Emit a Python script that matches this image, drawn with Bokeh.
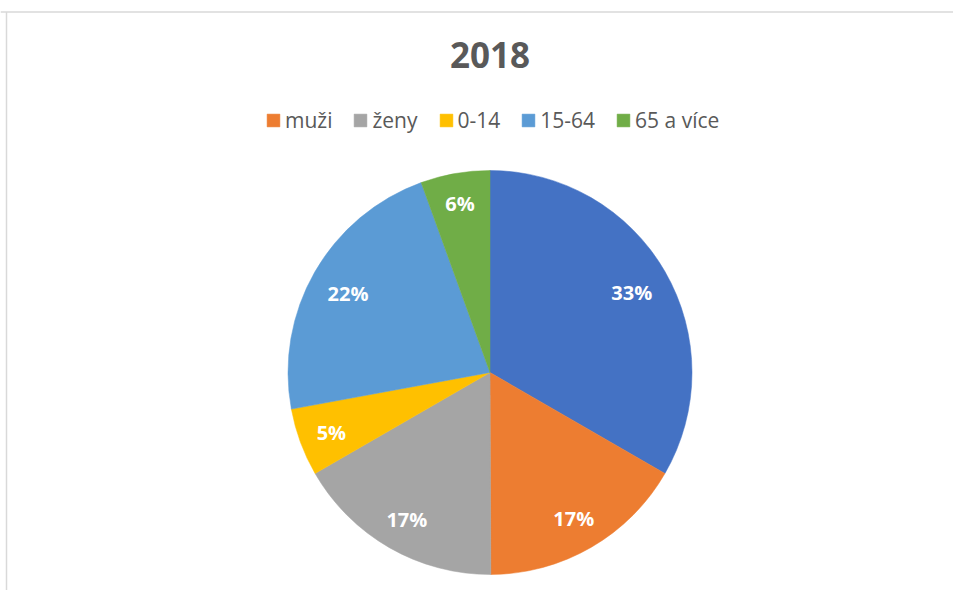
import math
from bokeh.plotting import figure
from bokeh.models import Range1d, Legend, LegendItem, ColumnDataSource
from bokeh.core.properties import value
from bokeh.embed import file_html
from bokeh.resources import INLINE

# ---- data ----
categories = ["celkem", "muži", "ženy", "0-14", "15-64", "65 a více"]
values = [10000, 4980, 5020, 1630, 6710, 1660]
colors = ["#4472C4", "#ED7D31", "#A5A5A5", "#FFC000", "#5B9BD5", "#70AD47"]
legend_items = ["muži", "ženy", "0-14", "15-64", "65 a více"]
title_text = "2018"

# ---- layout constants ----
W, H = 953, 590
CX, CY = 489.5, 372      # pie centre in canvas px
R = 202
LABEL_FS = 20
FONT = "Open Sans"
TEXT_COLOR = "#595959"

total = sum(values)
starts, ends, pcts, lx, ly = [], [], [], [], []
cum = 0
for v in values:
    a0 = math.pi / 2 - 2 * math.pi * cum / total
    a1 = math.pi / 2 - 2 * math.pi * (cum + v) / total
    starts.append(a0)
    ends.append(a1)
    pct = f"{round(v / total * 100)}%"
    pcts.append(pct)
    mid = (a0 + a1) / 2
    # inside-end placement: label box touching the arc (with padding)
    hw = 0.5 * LABEL_FS * (0.572 * (len(pct) - 1) + 0.862)
    hh = 10
    D = R - 16
    a, b = abs(math.cos(mid)), abs(math.sin(mid))
    k = a * hw + b * hh
    r = -k + math.sqrt(k * k - (hw * hw + hh * hh - D * D))
    lx.append(r * math.cos(mid))
    ly.append(r * math.sin(mid) - 2)
    cum += v

source = ColumnDataSource(dict(cat=categories, val=values, start=starts, end=ends,
                               color=colors, pct=pcts, lx=lx, ly=ly))

p = figure(width=W, height=H,
           x_range=Range1d(-CX, W - CX), y_range=Range1d(-(H - CY), CY),
           output_backend="svg", toolbar_location=None, min_border=0)
p.axis.visible = False
p.grid.visible = False
p.outline_line_color = None
p.background_fill_color = "white"
p.border_fill_color = "white"

# chart-area border (top and left edges)
p.segment(x0=[-CX, -CX + 6], y0=[CY - 11.5, -(H - CY)],
          x1=[W - CX, -CX + 6], y1=[CY - 11.5, CY - 11.5],
          line_color="#d9d9d9", line_width=1.5)

wr = p.wedge(x=0, y=0, radius=R, start_angle="start", end_angle="end",
             direction="clock", fill_color="color", line_color="color",
             line_width=0.5, source=source)

p.text(x="lx", y="ly", text="pct", source=source, text_font=value(FONT),
       text_font_style="bold", text_font_size=f"{LABEL_FS}px", text_color="white",
       text_align="center", text_baseline="middle")

# title
p.text(x=[0], y=[CY - 54], text=[title_text], text_font=value(FONT),
       text_font_style="bold", text_font_size="35px", text_color=TEXT_COLOR,
       text_align="center", text_baseline="middle")

items = [LegendItem(label=name, renderers=[wr], index=categories.index(name))
         for name in legend_items]
legend = Legend(items=items, orientation="horizontal", location=(265, H - 134),
                border_line_color=None, background_fill_alpha=0, padding=0, margin=0,
                spacing=20, label_standoff=4, glyph_width=16, glyph_height=16,
                label_text_font=FONT, label_text_font_size="21px",
                label_text_color=TEXT_COLOR)
p.add_layout(legend)

open("out.html", "w").write(file_html(p, INLINE))
